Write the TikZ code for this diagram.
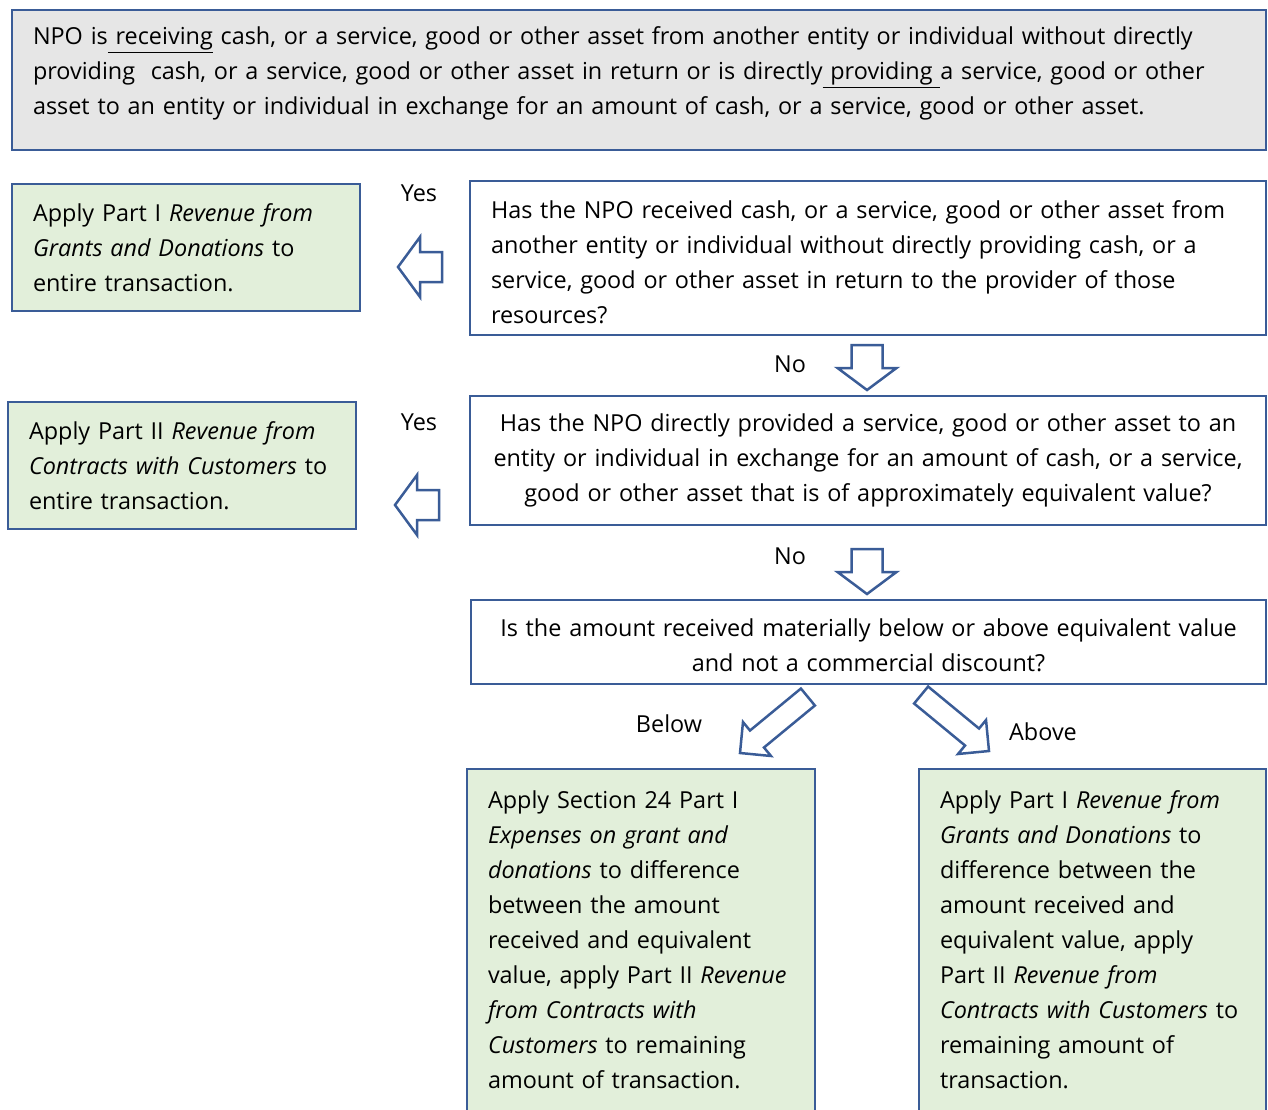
\documentclass[tikz,border=0pt]{standalone}
\usepackage{fontspec}
\setmainfont{Open Sans}
\usetikzlibrary{positioning}
\definecolor{boxBlue}{HTML}{3A5C97}
\definecolor{boxGray}{HTML}{E6E6E6}
\definecolor{boxGreen}{HTML}{E2EFDA}
\newcommand\widespacing{\spaceskip=0.33em plus 0.1em minus 0.05em\relax}

\begin{document}
\begin{tikzpicture}[
    x=1pt, y=-1pt,
    box/.style={draw=boxBlue, line width=2.5pt, outer sep=0pt,
                inner xsep=21pt, inner ysep=4pt, anchor=north west,
                font=\fontsize{23.4}{35}\selectfont},
    intro/.style={box, fill=boxGray, align=left},
    question/.style={box, fill=white},
    result/.style={box, fill=boxGreen, align=left},
    answer/.style={font=\fontsize{23.4}{35}\selectfont, inner sep=0pt},
    pics/blockarrow/.style n args={3}{code={
        \draw[boxBlue, line width=2.5pt, fill=white, line join=miter]
            (0,0) -- (-22,#2) -- (-22,#3) -- (-#1,#3) -- (-#1,-#3)
            -- (-22,-#3) -- (-22,-#2) -- cycle;}},
]
\useasboundingbox (0,0) rectangle (1268,1110);

% -- starting statement --
\node[intro, minimum width=1254pt, minimum height=140pt, text width=1212pt]
    (npo) at (12,10) {NPO is\underline{\ receiving} cash, or a service, good or other asset from another entity or individual without directly\\
    providing\ \ cash, or a service, good or other asset in return or is directly\underline{\ providing\ }a service, good or other\\
    asset to an entity or individual in exchange for an amount of cash, or a service, good or other asset.\rule[-18pt]{0pt}{18pt}};

% -- first question --
\node[question, align=left, minimum width=796pt, minimum height=154pt,
      text width=754pt]
    (received) at (470,181) {\rule{0pt}{26pt}Has the NPO received cash, or a service, good or other asset from\\
    another entity or individual without directly providing cash, or a\\
    service, good or other asset in return to the provider of those\\
    resources?};
\node[result, minimum width=348pt, minimum height=127pt, text width=306pt]
    (grants) at (12,184) {Apply Part I \textit{Revenue from}\\
    \textit{Grants and Donations} to\\
    entire transaction.};

% -- second question --
\node[question, align=center, minimum width=796pt, minimum height=129pt,
      text width=754pt, font=\fontsize{23.4}{35}\selectfont\widespacing]
    (provided) at (470,396) {Has the NPO directly provided a service, good or other asset to an\\
    entity or individual in exchange for an amount of cash, or a service,\\
    good or other asset that is of approximately equivalent value?};
\node[result, minimum width=348pt, minimum height=127pt, text width=306pt]
    (contracts) at (8,402) {Apply Part II \textit{Revenue from}\\
    \textit{Contracts with Customers} to\\
    entire transaction.};

% -- third question --
\node[question, align=center, minimum width=795pt, minimum height=84pt,
      text width=753pt, font=\fontsize{23.4}{35}\selectfont\widespacing]
    (amount) at (471,600) {\rule{0pt}{24pt}Is the amount received materially below or above equivalent value\\
    and not a commercial discount?};

% -- outcomes --
\node[result, minimum width=348pt, minimum height=342pt, text width=306pt]
    (below) at (467,769) {Apply Section 24 Part I\\
    \textit{Expenses on grant and}\\
    \textit{donations} to difference\\
    between the amount\\
    received and equivalent\\
    value, apply Part II \textit{Revenue}\\
    \textit{from Contracts with}\\
    \textit{Customers} to remaining\\
    amount of transaction.};
\node[result, minimum width=347pt, minimum height=342pt, text width=305pt]
    (above) at (919,769) {Apply Part I \textit{Revenue from}\\
    \textit{Grants and Donations} to\\
    difference between the\\
    amount received and\\
    equivalent value, apply\\
    Part II \textit{Revenue from}\\
    \textit{Contracts with Customers} to\\
    remaining amount of\\
    transaction.};

% -- answers --
\node[answer] (yes1) at (419,193) {Yes};
\node[answer] (no1) at (790,364) {No};
\node[answer] (yes2) at (419,422) {Yes};
\node[answer] (no2) at (790,556) {No};
\node[answer] (lbelow) at (669,724) {Below};
\node[answer] (labove) at (1043,732) {Above};

% -- block arrows --
\pic[rotate=180] at (398,267) {blockarrow={44}{30}{15}};
\pic[rotate=180] at (395,505) {blockarrow={44}{30}{15}};
\pic[rotate=-90] at (867,390) {blockarrow={45}{29.5}{15.5}};
\pic[rotate=-90] at (867,594) {blockarrow={45}{29.5}{15.5}};
\pic[rotate=219.5] at (740,753) {blockarrow={88}{22}{11}};
\pic[rotate=-39.5] at (989,751) {blockarrow={88}{22}{11}};
\end{tikzpicture}
\end{document}
